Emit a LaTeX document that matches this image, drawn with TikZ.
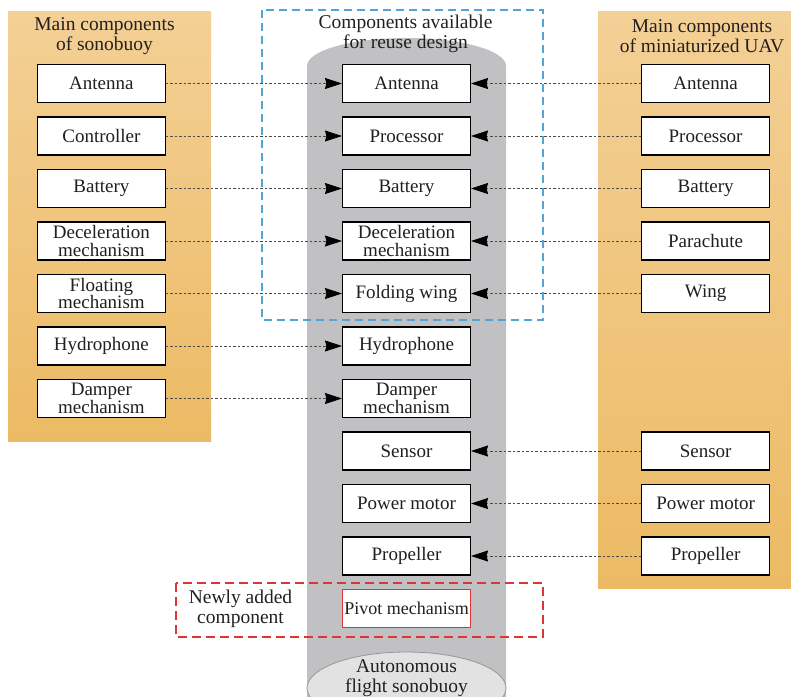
\documentclass[tikz,border=0pt]{standalone}
\usepackage{fontspec}
\setmainfont{Liberation Serif}
\usepackage{tikz}
\usetikzlibrary{positioning}
\usetikzlibrary{arrows.meta}
\tikzset{>={Stealth[length=17pt,width=11pt,inset=1.5pt,color=black]}}
\definecolor{panellight}{RGB}{243,208,150}
\definecolor{paneldark}{RGB}{236,186,100}
\definecolor{cylgray}{RGB}{193,193,195}
\definecolor{ellgray}{RGB}{226,226,226}
\definecolor{ellline}{RGB}{150,150,150}
\definecolor{reuseblue}{RGB}{80,165,212}
\definecolor{newred}{RGB}{222,52,52}
\definecolor{txt}{RGB}{35,31,32}

\begin{document}
\begin{tikzpicture}[x=1pt, y=-1pt,
		part/.style={draw=black, line width=1.1pt, fill=white, minimum width=128pt, minimum height=38pt, inner sep=1pt, align=center, text=txt, font=\fontsize{19}{17.5}\selectfont},
		title/.style={align=center, text=txt, inner sep=0pt, font=\fontsize{19.5}{19.5}\selectfont},
		conn/.style={draw=black!70, line width=0.7pt, dash pattern=on 2.5pt off 2pt}]
			\useasboundingbox (0,0) rectangle (791,696);
			\clip (0,0) rectangle (791,696);
			\shade [top color=panellight, bottom color=paneldark] (8,11) rectangle (211,441);
			\shade [top color=panellight, bottom color=paneldark] (598,11) rectangle (791,588);
			\fill [cylgray] (307,710) -- (307,66) arc [start angle=180, end angle=360, x radius=99.5, y radius=28] -- (506,710) -- cycle;
			\draw [fill=ellgray, draw=ellline, line width=0.8pt] (406.5,688) ellipse [x radius=99.5, y radius=36];
			\draw [reuseblue, line width=1.5pt, dash pattern=on 8pt off 5pt] (262,10) rectangle (543,320);
			\draw [newred, line width=1.5pt, dash pattern=on 9pt off 5pt] (176,583) rectangle (543,637);
			\node [title] (stitle) at (104.5,36) {Main components\\of sonobuoy};
			\node [title] (atitle) at (405.5,34) {Components available\\for reuse design};
			\node [title] (utitle) at (702,36) {Main components\\of miniaturized UAV};
			\node [title] (ntitle) at (240.5,609) {Newly added\\component};
			\node [title] (btitle) at (406.5,678) {Autonomous\\flight sonobuoy};
			\node [part] (aAnt) at (406.5,83.5) {Antenna};
			\node [part, below=13.4pt of aAnt] (aProc) {Processor};
			\node [part, below=13.4pt of aProc] (aBat) {Battery};
			\node [part, below=13.4pt of aBat] (aDec) {Deceleration\\mechanism};
			\node [part, below=13.4pt of aDec] (aWing) {Folding wing};
			\node [part, below=13.4pt of aWing] (aHyd) {Hydrophone};
			\node [part, below=13.4pt of aHyd] (aDamp) {Damper\\mechanism};
			\node [part, below=13.4pt of aDamp] (aSens) {Sensor};
			\node [part, below=13.4pt of aSens] (aMot) {Power motor};
			\node [part, below=13.4pt of aMot] (aProp) {Propeller};
			\node [part, below=13.4pt of aProp, draw=newred, line width=0.8pt, font=\fontsize{18}{17}\selectfont] (aPiv) {Pivot mechanism};
			\node [part, left=176pt of aAnt] (sAnt) {Antenna};
			\node [part, left=176pt of aProc] (sCtrl) {Controller};
			\node [part, left=176pt of aBat] (sBat) {Battery};
			\node [part, left=176pt of aDec] (sDec) {Deceleration\\mechanism};
			\node [part, left=176pt of aWing] (sFloat) {Floating\\mechanism};
			\node [part, left=176pt of aHyd] (sHyd) {Hydrophone};
			\node [part, left=176pt of aDamp] (sDamp) {Damper\\mechanism};
			\node [part, right=170pt of aAnt] (uAnt) {Antenna};
			\node [part, right=170pt of aProc] (uProc) {Processor};
			\node [part, right=170pt of aBat] (uBat) {Battery};
			\node [part, right=170pt of aDec] (uPara) {Parachute};
			\node [part, right=170pt of aWing] (uWing) {Wing};
			\node [part, right=170pt of aSens] (uSens) {Sensor};
			\node [part, right=170pt of aMot] (uMot) {Power motor};
			\node [part, right=170pt of aProp] (uProp) {Propeller};
			\draw [conn, ->] (sAnt) -- (aAnt);
			\draw [conn, ->] (sCtrl) -- (aProc);
			\draw [conn, ->] (sBat) -- (aBat);
			\draw [conn, ->] (sDec) -- (aDec);
			\draw [conn, ->] (sFloat) -- (aWing);
			\draw [conn, ->] (sHyd) -- (aHyd);
			\draw [conn, ->] (sDamp) -- (aDamp);
			\draw [conn, ->] (uAnt) -- (aAnt);
			\draw [conn, ->] (uProc) -- (aProc);
			\draw [conn, ->] (uBat) -- (aBat);
			\draw [conn, ->] (uPara) -- (aDec);
			\draw [conn, ->] (uWing) -- (aWing);
			\draw [conn, ->] (uSens) -- (aSens);
			\draw [conn, ->] (uMot) -- (aMot);
			\draw [conn, ->] (uProp) -- (aProp);
		\end{tikzpicture}
\end{document}
